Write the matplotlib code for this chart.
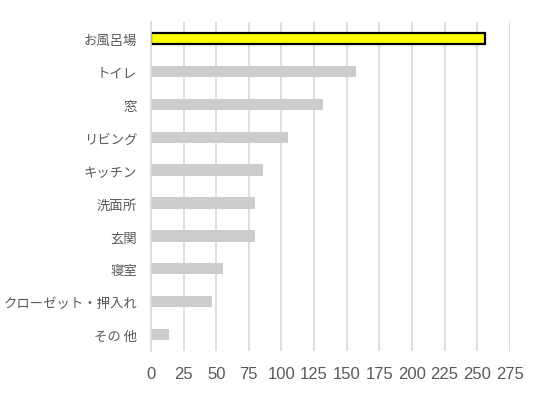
import matplotlib
matplotlib.use("Agg")
import matplotlib.pyplot as plt
import numpy as np

plt.rcParams['font.family'] = ['Noto Sans CJK JP', 'DejaVu Sans']

categories = ["お風呂場", "トイレ", "窓", "リビング", "キッチン",
              "洗面所", "玄関", "寝室", "クローゼット・押入れ", "その 他"]
values = [256, 157, 132, 105, 86, 80, 80, 55, 47, 14]
xticks = [0, 25, 50, 75, 100, 125, 150, 175, 200, 225, 250, 275]

fig = plt.figure(figsize=(5.47, 4.02), dpi=100)
ax = fig.add_axes([0.276, 0.124, 0.656, 0.819])

y = np.arange(len(categories))
colors = ["#FFFF00"] + ["#CCCCCC"] * (len(categories) - 1)
edges = ["#000000"] + ["none"] * (len(categories) - 1)
lws = [1.6] + [0] * (len(categories) - 1)
ax.barh(y, values, height=0.34, color=colors, edgecolor=edges, linewidth=lws, zorder=3)

ax.set_ylim(len(categories) - 0.5, -0.5)
ax.set_xlim(0, 275)
ax.set_xticks(xticks)
ax.set_xticklabels([str(t) for t in xticks], family=['Liberation Sans', 'DejaVu Sans'])
ax.set_yticks(y)
ax.set_yticklabels(categories)

ax.grid(axis="x", color="#D9D9D9", linewidth=1.2, zorder=0)
for s in ["top", "right", "bottom"]:
    ax.spines[s].set_visible(False)
ax.spines["left"].set_color("#D9D9D9")
ax.spines["left"].set_linewidth(1.2)
ax.spines["left"].set_zorder(4)

ax.tick_params(axis="x", length=0, pad=11, labelsize=12, labelcolor="#595959")
ax.tick_params(axis="y", length=0, pad=10, labelsize=9.6, labelcolor="#595959")

fig.savefig("out.png", dpi=100)
